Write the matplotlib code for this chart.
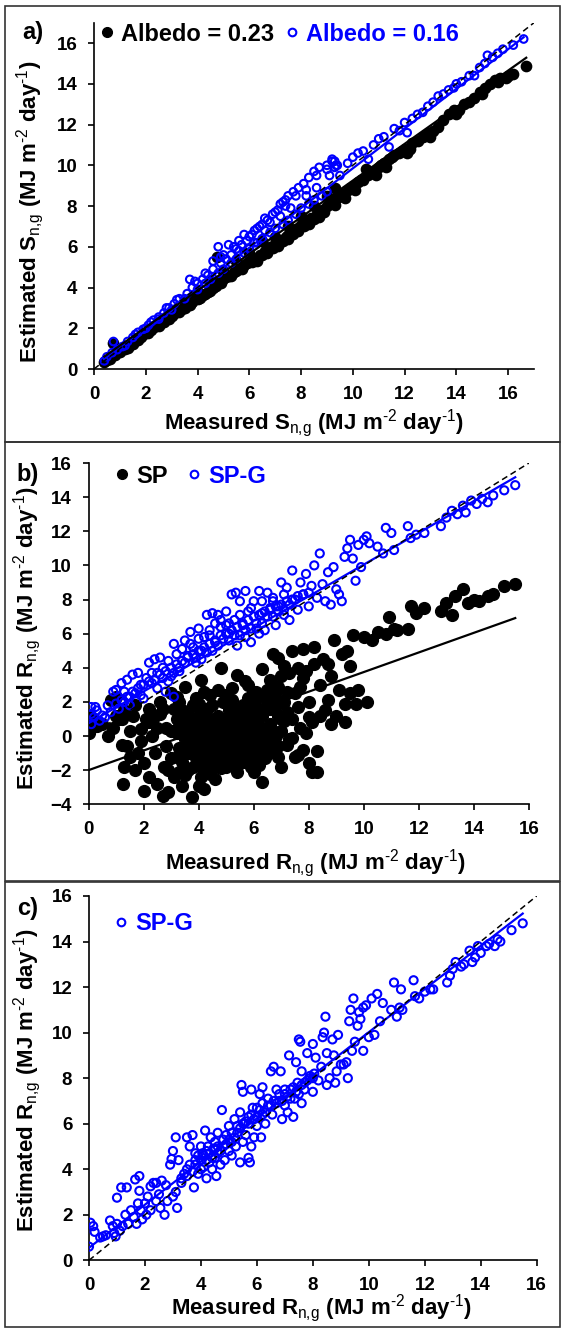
import numpy as np
import matplotlib
matplotlib.use('Agg')
import matplotlib.pyplot as plt
from matplotlib.lines import Line2D
from matplotlib.patches import Rectangle

plt.rcParams['font.family'] = ['Liberation Sans', 'DejaVu Sans']
plt.rcParams['mathtext.fontset'] = 'custom'
plt.rcParams['mathtext.rm'] = 'Liberation Sans'
plt.rcParams['mathtext.bf'] = 'Liberation Sans:bold'

# ---- panel a: estimated vs measured S_n,g (x, y)
a_alb023 = [(0.4,0.35),(0.5,0.45),(0.6,0.5),(0.75,1.3),(0.8,0.7),(1.0,0.85),(1.2,1.0),(1.4,1.2),(1.6,1.4),
            (1.8,1.55),(2.0,1.75),(2.2,1.9),(2.4,2.1),(2.6,2.25),(2.8,2.45),(3.0,2.6),(3.2,2.8),(3.4,2.95),
            (3.6,3.15),(3.8,3.3),(4.0,3.45),(4.2,3.65),(4.4,3.8),(4.6,4.0),(4.8,4.2),(4.75,5.5),(5.0,4.4),
            (5.2,4.55),(5.4,4.75),(5.6,4.9),(5.8,5.1),(6.0,5.25),(6.2,5.4),(6.4,5.6),(6.6,5.8),(6.8,6.0),
            (7.0,6.15),(7.2,6.35),(7.4,6.5),(7.6,6.7),(7.8,6.85),(8.0,7.05),(8.2,7.2),(8.4,7.4),(8.6,7.6),
            (8.8,7.8),(9.0,8.0),(9.2,8.2),(9.4,8.4),(9.6,8.6),(9.8,8.8),(10.0,9.0),(10.2,9.2),(10.4,9.3),
            (10.6,9.5),(10.8,9.7),(11.0,9.9),(11.2,10.1),(11.4,10.3),(11.6,10.5),(11.8,10.6),(12.0,10.8),
            (12.1,10.6),(12.3,11.1),(12.5,11.2),(12.7,11.4),(12.9,11.6),(13.1,11.7),(13.3,11.9),(13.5,12.2),
            (13.7,12.5),(13.9,12.7),(14.1,12.7),(14.3,13.0),(14.5,13.1),(14.7,13.3),(14.9,13.6),(15.1,13.8),
            (15.3,14.0),(15.5,14.2),(15.7,14.3),(15.9,14.3),(16.2,14.5),(16.7,14.85),
            (1.1,1.05),(1.5,1.25),(1.9,1.7),(2.3,2.05),(2.7,2.3),(3.1,2.75),(3.5,3.0),(3.9,3.45),(4.3,3.7),
            (4.7,4.05),(5.1,4.5),(5.5,4.8),(5.9,5.2),(6.3,5.45),(6.7,5.9),(7.1,6.2),(7.5,6.6),(7.9,6.9),
            (8.3,7.25),(8.7,7.7),(9.1,8.1),(9.5,8.55),(9.9,8.9),(10.3,9.3),(10.7,9.6),(11.1,10.0),(11.5,10.4),
            (11.9,10.7),(6.5,6.3),(7.0,6.5),(7.5,7.0),(8.0,7.5),(8.5,8.0),(9.0,8.5),(5.0,4.8),(5.5,5.3),
            (6.0,5.7),(4.5,4.3),(4.0,3.8),(3.5,3.3),(9.3,8.9),(10.5,9.8),
            (1.3,1.05),(1.7,1.4),(2.1,1.75),(2.5,2.1),(2.9,2.45),(3.3,2.8),(3.7,3.15),(4.1,3.5),(4.5,3.85),
            (4.9,4.2),(5.3,4.55),(5.7,4.9),(6.1,5.25),(6.5,5.6),(6.9,5.95),(7.3,6.3),(7.7,6.65),(8.1,7.0),
            (8.5,7.35),(8.9,7.7),(9.3,8.05),(7.9,6.75),(8.3,7.1),(8.7,7.45),(6.3,5.3),(6.7,5.7),(7.1,6.05),
            (7.5,6.4),(9.7,8.4),(10.1,8.8),(10.9,9.5),(11.3,9.9),(12.2,10.8),(13.0,11.4),(14.0,12.5),
            (15.0,13.5),(15.6,14.1),(16.0,14.4)]
a_alb016 = [(0.4,0.4),(0.5,0.6),(0.7,0.8),(0.75,1.35),(0.9,0.95),(1.1,1.1),(1.3,1.35),(1.5,1.55),(1.7,1.8),
            (1.9,1.95),(2.1,2.15),(2.3,2.4),(2.5,2.55),(2.7,2.75),(2.9,3.0),(3.1,3.2),(3.3,3.45),(3.6,3.7),
            (3.8,4.0),(3.7,4.4),(4.0,4.2),(4.2,4.4),(4.4,4.6),(4.6,4.9),(4.8,6.0),(4.9,5.2),(5.1,5.4),
            (5.3,5.6),(5.5,5.9),(5.2,6.1),(5.7,6.1),(5.9,6.3),(6.1,6.6),(6.3,6.9),(6.5,7.1),(6.7,7.3),
            (6.9,7.6),(7.1,7.8),(7.3,8.2),(7.5,8.5),(7.4,8.0),(7.7,8.7),(7.9,8.9),(8.1,9.1),(8.3,9.4),
            (8.5,9.7),(8.7,9.9),(9.0,10.0),(9.2,10.2),(9.4,10.0),(9.5,9.5),(9.8,10.1),(10.0,10.4),(10.2,10.6),
            (10.4,10.7),(10.6,10.3),(10.8,11.0),(11.0,11.3),(11.2,11.4),(11.4,10.9),(11.6,11.8),(11.8,11.7),
            (12.0,12.1),(12.1,11.6),(12.3,12.3),(12.5,12.5),(12.7,12.6),(12.9,12.9),(13.1,13.1),(13.3,13.4),
            (13.5,13.5),(13.7,13.7),(13.9,13.8),(14.0,14.0),(14.2,14.1),(14.5,14.4),(14.7,14.4),(14.9,14.8),
            (15.1,15.0),(15.2,15.4),(15.4,15.3),(15.6,15.5),(15.8,15.7),(16.2,15.9),(16.6,16.2),
            (1.2,1.15),(2.0,2.0),(3.0,2.9),(4.0,3.9),(4.5,4.4),(5.0,4.9),(5.5,5.4),(6.0,5.9),(6.5,6.4),
            (7.0,6.9),(7.5,7.3),(8.0,7.9),(8.5,8.3),(9.0,8.7),(2.5,2.45),(3.5,3.45),(4.3,4.2),(4.8,4.7),
            (5.3,5.2),(5.8,5.7),(6.3,6.2),(6.8,6.7),(7.3,7.1),(7.8,7.6),(8.3,8.1),(8.8,8.5),(5.6,5.8),
            (6.2,6.2),(6.6,6.8),(7.2,7.5),(7.6,7.9),(8.2,8.5),(8.6,8.9),(9.1,9.5),(9.3,9.9),(9.3,10.2),
            (4.6,5.3),(5.0,5.6),(5.4,6.0),(5.8,6.6),(6.2,6.8),(6.6,7.4),(7.0,7.7),(7.4,8.3),(7.8,8.5),
            (8.2,8.8),(8.6,9.5),(9.0,9.8),(9.2,10.3),(9.35,10.0),(6.8,7.2),(7.2,8.1),(3.9,4.3),(4.3,4.7),
            (4.9,5.5),(5.6,6.3),(6.0,6.5),(6.4,7.0),(2.8,3.0),(3.2,3.4),(1.6,1.7),(2.2,2.3)]

# ---- panel b: estimated vs measured R_n,g
b_sp = [(0.0,0.2),(0.05,1.2),(0.1,0.5),(0.2,0.8),(0.3,0.6),(0.5,0.7),(0.7,0.0),(0.8,2.1),(0.9,0.5),(1.0,2.3),
        (1.1,1.0),(1.2,-0.5),(1.25,-2.8),(1.3,-1.8),(1.4,-0.6),(1.5,-1.2),(1.6,1.2),(1.7,-2.0),(1.8,-1.0),
        (1.9,0.4),(2.0,-3.2),(2.0,-1.6),(2.1,1.0),(2.2,-2.4),(2.3,0.0),(2.4,-1.0),(2.5,-2.8),(2.6,1.3),
        (2.7,-3.5),(2.75,-1.8),(2.8,0.5),(2.9,-3.3),(3.0,-1.3),(3.0,2.5),(3.1,-2.4),(3.2,0.2),(3.3,-0.7),
        (3.4,1.5),(3.5,-2.3),(3.5,2.9),(3.6,-1.0),(3.7,0.5),(3.75,-3.6),(3.8,-1.8),(3.8,1.8),(3.9,-0.3),
        (4.0,-2.9),(4.0,0.9),(4.1,3.3),(4.1,-1.2),(4.2,-3.1),(4.2,0.2),(4.3,-0.7),(4.3,1.6),(4.4,-2.2),
        (4.4,2.4),(4.5,-1.5),(4.5,0.6),(4.6,-2.5),(4.6,-0.2),(4.7,1.2),(4.7,-1.0),(4.8,4.0),(4.8,-0.5),
        (4.9,0.3),(4.9,2.0),(5.0,-1.8),(5.0,1.0),(5.1,-0.8),(5.2,2.8),(5.2,-1.4),(5.3,0.5),(5.4,3.6),
        (5.4,-2.1),(5.5,1.5),(5.5,-0.3),(5.6,0.2),(5.7,3.2),(5.7,-1.0),(5.8,2.2),(5.9,-1.8),(5.9,0.8),
        (6.0,1.2),(6.0,-2.1),(6.1,2.6),(6.2,-0.6),(6.3,3.9),(6.3,-2.7),(6.4,0.4),(6.5,1.8),(6.6,-0.9),
        (6.7,4.8),(6.7,2.5),(6.8,0.0),(6.9,1.2),(7.0,3.5),(7.0,-1.8),(7.1,2.0),(7.2,-0.5),(7.3,3.7),
        (7.4,1.0),(7.4,5.0),(7.5,-1.2),(7.5,2.5),(7.6,4.0),(7.7,0.5),(7.8,-0.8),(7.8,5.1),(7.9,3.8),
        (8.0,2.0),(8.0,-1.6),(8.1,-2.1),(8.1,0.8),(8.2,4.2),(8.2,5.2),(8.3,-2.1),(8.3,-0.9),(8.4,1.2),
        (8.5,4.5),(8.6,1.5),(8.7,4.2),(8.8,0.7),(8.8,3.5),(8.9,5.6),(9.0,1.2),(9.1,2.7),(9.2,4.8),
        (9.3,1.9),(9.3,0.8),(9.4,5.0),(9.5,2.5),(9.5,4.1),(9.6,5.9),(9.7,1.9),(9.8,2.7),(10.0,5.8),
        (10.1,2.0),(10.3,5.6),(10.5,6.1),(10.8,6.0),(10.9,7.0),(11.1,6.3),(11.2,6.2),(11.6,6.3),(11.7,7.6),
        (11.9,7.2),(12.2,7.5),(12.8,7.3),(13.0,7.8),(13.2,7.1),(13.3,8.2),(13.6,8.6),(13.8,7.8),(14.0,8.0),
        (14.2,7.9),(14.5,8.2),(14.7,8.3),(15.1,8.8),(15.5,8.9),
        (3.6,0.2),(3.9,0.8),(4.0,-0.5),(4.1,1.4),(4.3,-1.6),(4.4,0.0),(4.5,1.8),(4.6,1.0),(4.8,-1.9),
        (4.9,-1.2),(5.0,0.2),(5.1,1.5),(5.3,-0.6),(5.4,0.9),(5.6,-1.5),(5.7,1.2),(5.8,-0.4),(6.0,0.4),
        (6.1,-1.2),(6.2,1.6),(6.4,-0.2),(6.5,2.7),(6.6,0.7),(6.8,1.7),(7.0,0.3),(7.2,1.4),(7.3,-0.2),
        (7.6,1.7),(3.4,-1.5),(3.2,1.0),(3.0,0.3),(2.8,-0.6),(2.5,0.5),(2.2,0.8),(1.9,-0.3),(4.2,2.6),
        (5.2,2.1),(5.8,3.0),(6.6,3.3),(6.9,2.9),(7.7,2.9),(8.4,3.0),(8.7,2.1),
        (3.3,0.6),(3.5,-0.2),(3.7,1.2),(3.8,-0.8),(3.9,0.0),(4.0,1.9),(4.1,-0.3),(4.2,0.9),(4.3,0.4),
        (4.4,-1.0),(4.5,-0.4),(4.6,0.4),(4.7,0.0),(4.8,0.8),(4.9,-0.7),(5.0,-0.3),(5.1,0.5),(5.2,0.0),
        (5.3,1.1),(5.4,-1.0),(5.5,0.5),(5.6,1.8),(5.7,0.0),(5.8,0.8),(5.9,-0.8),(6.0,-0.3),(6.1,0.6),
        (6.2,0.1),(6.3,1.2),(6.4,-1.3),(6.5,0.3),(6.6,1.6),(6.7,-0.3),(6.8,2.3),(6.9,-0.6),(7.1,0.9),
        (7.2,2.6),(7.4,-0.1),(3.1,1.6),(2.9,-2.0),(3.4,-2.9),(4.6,-1.8),(5.5,-1.6),(6.2,-1.7),(4.2,-2.0),
        (3.6,-2.0),(3.2,-1.2),(5.0,-1.2),(5.8,1.4),(6.4,2.2),(4.7,2.7),(3.9,2.2),(3.3,2.0),(2.7,1.6),
        (2.4,1.2),(1.5,0.3),(1.2,1.0),(7.9,0.2),(7.6,-1.1),(8.0,1.1),(7.8,3.4),(7.1,4.1),(6.9,4.6),
        (1.0,1.2),(1.3,1.5),(1.7,1.8),(2.2,1.6),(2.6,2.0),(3.2,2.3),(3.5,1.1),(3.7,-0.5),(3.9,-1.3),
        (4.0,0.3),(4.1,-2.4),(4.2,-0.9),(4.3,1.1),(4.4,-0.5),(4.5,0.2),(4.6,-1.2),(4.7,0.6),(4.8,-1.4),
        (4.9,1.0),(5.0,0.6),(5.1,-1.6),(5.2,-0.4),(5.3,0.2),(5.4,0.5),(5.5,-0.8),(5.6,-0.5),(5.7,0.5),
        (5.8,-1.2),(5.9,0.2),(6.0,-1.0),(6.1,0.0),(6.2,-1.1),(6.3,0.5),(6.5,-0.6),(6.7,0.3),(6.9,-1.2),
        (7.0,1.0),(3.5,0.4),(3.8,0.6),(4.4,0.7),(5.3,1.6),(6.0,2.0),(5.0,2.4),(4.1,-1.7),(3.3,-2.1)]
b_spg = [(0.1,0.7),(0.1,1.7),(0.25,1.7),(0.1,1.3),(0.2,1.1),(0.3,1.5),(0.5,1.2),(0.7,1.8),(0.8,1.4),(0.9,2.6),
         (1.0,2.7),(1.1,1.6),(1.2,3.1),(1.3,2.0),(1.4,3.3),(1.5,2.3),(1.6,3.6),(1.7,2.5),(1.8,3.7),(1.9,3.0),
         (2.0,2.2),(2.1,3.4),(2.2,4.3),(2.3,3.1),(2.4,4.5),(2.5,3.7),(2.6,4.6),(2.7,4.0),(2.8,2.6),(2.9,4.4),
         (3.0,3.5),(3.1,2.3),(3.1,5.4),(3.2,4.8),(3.3,4.0),(3.4,5.1),(3.5,5.6),(3.6,4.6),(3.7,6.1),(3.8,5.2),
         (3.9,4.3),(4.0,6.3),(4.1,5.0),(4.2,5.8),(4.3,7.1),(4.4,6.2),(4.5,7.2),(4.6,5.5),(4.7,7.1),(4.8,6.4),
         (4.9,5.7),(5.0,7.3),(5.1,6.0),(5.2,8.3),(5.3,6.8),(5.35,8.4),(5.4,5.3),(5.5,7.9),(5.6,6.6),(5.7,8.5),
         (5.8,7.3),(5.9,5.5),(6.0,7.9),(6.1,6.6),(6.2,8.5),(6.3,7.2),(6.4,6.2),(6.5,8.4),(6.6,7.5),(6.7,8.1),
         (6.8,6.5),(6.9,7.6),(7.0,9.0),(7.1,7.1),(7.2,8.7),(7.3,6.8),(7.4,9.7),(7.5,8.0),(7.6,7.4),(7.7,9.0),
         (7.8,8.3),(7.9,9.5),(8.0,7.6),(8.1,8.8),(8.2,10.0),(8.3,8.1),(8.4,10.7),(8.5,8.9),(8.6,7.9),(8.7,9.6),
         (8.8,7.7),(8.9,9.9),(9.0,8.6),(9.1,8.3),(9.2,7.9),(9.3,10.5),(9.4,11.0),(9.5,11.5),(9.6,10.4),
         (9.7,9.1),(9.8,11.2),(9.9,9.9),(10.0,11.5),(10.1,11.7),(10.2,11.3),(10.5,11.1),(10.7,10.7),
         (10.8,12.2),(11.0,11.9),(11.1,10.9),(11.6,12.3),(11.7,11.6),(11.9,11.8),(12.2,11.9),(12.8,12.3),
         (13.0,12.8),(13.2,13.2),(13.4,13.0),(13.6,13.5),(13.7,13.1),(13.9,13.8),(14.1,13.6),(14.3,13.9),
         (14.5,13.7),(14.7,14.1),(15.1,14.4),(15.5,14.7),
         (1.0,1.9),(1.2,2.1),(1.4,2.3),(1.6,2.6),(1.8,2.8),(2.0,3.0),(2.2,3.2),(2.4,3.3),(2.6,3.6),(2.8,3.8),
         (3.0,4.0),(3.2,4.2),(3.4,4.4),(3.6,4.7),(3.8,4.8),(4.0,5.0),(4.2,5.2),(4.4,5.4),(4.6,5.6),(4.8,5.9),
         (5.0,6.0),(5.2,6.2),(5.4,6.4),(5.6,6.5),(5.8,6.8),(6.0,7.0),(6.2,7.1),(6.4,7.3),(6.6,7.4),(6.8,7.6),
         (7.0,7.7),(7.2,7.9),(7.4,8.0),(7.6,8.2),(7.8,8.3),(8.0,8.4),(3.3,3.8),(3.9,4.6),(4.3,4.9),(4.7,5.3),
         (5.1,5.6),(5.5,5.9),(5.9,6.3),(6.3,6.6),(6.7,7.0),(7.1,7.4),(2.5,2.8),(2.9,3.2),(1.5,1.8),(0.6,1.1),
         (0.4,0.9),(3.5,4.3),(4.1,4.5),(4.5,5.0),(5.3,5.9),(5.7,6.2),(6.1,6.3),(6.5,7.0),(6.9,7.3),(7.3,7.7),
         (3.7,5.4),(4.0,5.7),(4.4,5.9),(4.8,6.8),(5.1,6.6),(5.5,7.1),(5.9,7.5),(6.3,7.9),(6.7,7.9),(7.1,8.3),
         (4.6,6.6),(5.0,6.5),(5.7,5.8),(6.2,6.0),(2.3,3.7),(2.7,3.4),(3.1,3.7),(1.9,2.4),(1.3,2.6)]

# ---- panel c: SP-G only
c_spg = [(0.0,0.6),(0.05,1.65),(0.15,1.5),(0.2,1.25),(0.4,1.0),(0.5,1.05),(0.6,1.1),(0.75,1.75),(0.85,1.5),
         (0.9,1.2),(0.95,1.05),(1.0,1.6),(1.0,2.75),(1.1,1.3),(1.15,3.2),(1.2,1.5),(1.3,2.0),(1.35,3.2),
         (1.4,1.6),(1.5,2.2),(1.6,1.9),(1.65,3.55),(1.7,1.6),(1.75,2.5),(1.8,3.7),(1.8,3.05),(1.85,2.2),
         (1.9,1.8),(2.0,2.5),(2.05,2.0),(2.1,2.8),(2.2,3.25),(2.2,2.2),(2.3,3.4),(2.4,3.4),(2.4,2.6),
         (2.5,2.9),(2.55,2.3),(2.6,3.5),(2.7,2.0),(2.75,3.3),(2.8,2.6),(2.9,4.2),(2.95,4.45),(3.0,2.8),
         (3.0,4.8),(3.1,3.0),(3.1,5.4),(3.15,2.3),(3.2,4.4),(3.3,3.4),(3.4,3.8),(3.5,4.0),(3.5,5.4),(3.6,5.0),
         (3.7,5.5),(3.75,3.2),(3.8,4.2),(3.8,4.7),(3.9,3.8),(4.0,4.4),(4.0,5.0),(4.1,4.1),(4.1,4.6),(4.15,5.7),
         (4.2,3.6),(4.2,4.8),(4.3,4.3),(4.35,5.4),(4.4,4.0),(4.45,4.9),(4.5,4.5),(4.5,5.2),(4.55,3.7),
         (4.6,5.6),(4.6,4.7),(4.7,4.2),(4.75,6.6),(4.8,5.0),(4.85,4.4),(4.9,5.5),(5.0,4.8),(5.0,5.9),(5.1,5.2),
         (5.1,4.6),(5.2,6.2),(5.25,5.0),(5.3,5.6),(5.4,4.3),(5.4,6.5),(5.45,7.7),(5.5,5.2),(5.5,7.4),
         (5.55,6.0),(5.6,5.5),(5.7,4.5),(5.7,6.3),(5.75,4.3),(5.8,7.5),(5.8,5.0),(5.85,6.7),(5.9,5.4),
         (6.0,5.9),(6.0,6.7),(6.1,7.3),(6.15,5.4),(6.2,6.4),(6.2,7.6),(6.3,6.0),(6.4,6.8),(6.5,8.3),(6.55,6.4),
         (6.6,8.5),(6.7,7.5),(6.8,7.0),(6.85,8.3),(6.9,6.2),(7.0,6.8),(7.0,7.3),(7.1,6.5),(7.15,9.0),(7.2,7.5),
         (7.3,6.3),(7.35,7.1),(7.4,8.7),(7.45,7.8),(7.5,9.7),(7.55,9.6),(7.6,6.9),(7.6,8.3),(7.7,7.5),
         (7.8,9.1),(7.9,8.0),(8.0,9.5),(8.0,7.4),(8.05,8.2),(8.1,8.9),(8.2,7.9),(8.3,8.5),(8.35,9.8),(8.4,10.0),
         (8.45,10.7),(8.5,9.1),(8.5,7.7),(8.6,8.0),(8.7,9.7),(8.75,9.0),(8.8,7.8),(8.85,8.3),(8.9,9.9),
         (9.0,8.6),(9.1,8.6),(9.2,8.7),(9.25,8.0),(9.3,10.5),(9.35,11.0),(9.4,9.2),(9.45,11.5),(9.5,9.6),
         (9.6,10.3),(9.65,10.9),(9.7,10.6),(9.8,9.2),(9.8,11.1),(9.9,11.2),(10.0,9.8),(10.1,11.5),(10.2,9.9),
         (10.3,11.7),(10.4,10.5),(10.5,11.3),(10.8,11.0),(10.9,12.2),(11.0,10.7),(11.1,11.1),(11.15,11.9),
         (11.2,11.0),(11.6,12.3),(11.65,11.6),(11.8,11.5),(12.0,11.8),(12.2,11.9),(12.3,11.9),(12.8,12.2),
         (12.9,12.5),(13.0,12.8),(13.1,13.1),(13.3,12.9),(13.4,13.0),(13.6,13.6),(13.7,13.1),(13.8,13.3),
         (13.9,13.8),(14.0,13.5),(14.2,13.8),(14.3,13.9),(14.5,13.8),(14.6,14.1),(14.7,14.0),(15.1,14.5),
         (15.5,14.8),
         (3.3,3.6),(3.5,3.7),(3.6,4.2),(3.7,3.9),(3.8,4.4),(3.9,4.6),(4.0,4.0),(4.05,4.7),(4.2,4.4),(4.25,5.0),
         (4.3,4.7),(4.4,4.5),(4.5,4.9),(4.6,5.0),(4.7,4.8),(4.8,5.3),(4.9,5.1),(5.0,5.3),(5.1,5.6),(5.2,5.4),
         (5.3,5.9),(5.4,5.8),(5.5,6.0),(5.6,6.1),(5.7,6.0),(5.8,6.4),(5.9,6.2),(6.0,6.3),(6.1,6.6),(6.2,6.9),
         (6.3,6.5),(6.4,7.1),(6.5,6.8),(6.6,7.0),(6.7,6.9),(6.8,7.3),(6.9,7.0),(7.0,7.5),(7.1,7.2),(7.2,7.1),
         (7.3,7.6),(7.4,7.4),(7.5,7.3),(7.6,7.7),(7.7,7.8),(7.8,7.9),(7.9,8.1),(8.0,8.0)]

# regression lines (slope, intercept, x range)
a_fit023 = (0.90, 0.25, 0.4, 16.7)
a_fit016 = (0.975, 0.10, 0.4, 16.6)
b_fit_sp = (0.575, -2.0, 0.0, 15.5)
b_fit_spg = (0.93, 0.75, 0.0, 15.5)
c_fit_spg = (0.947, 0.55, 0.0, 15.5)

BLUE = '#0000ff'
W, H = 564, 1328


def xy(pts):
    arr = np.array(pts)
    return arr[:, 0], arr[:, 1]


def fitline(ax, fit, color):
    m, c, x0, x1 = fit
    xs = np.array([x0, x1])
    ax.plot(xs, m * xs + c, color=color, lw=1.6, zorder=4)


def style(ax, xlim, ylim, yticks):
    ax.set_xlim(*xlim)
    ax.set_ylim(*ylim)
    ax.set_xticks(np.arange(0, 17, 2))
    ax.set_yticks(yticks)
    for s in ['top', 'right']:
        ax.spines[s].set_visible(False)
    for s in ['left', 'bottom']:
        ax.spines[s].set_linewidth(1.2)
    ax.tick_params(direction='out', length=4, width=1.2, labelsize=13.5, pad=8)
    for lab in ax.get_xticklabels() + ax.get_yticklabels():
        lab.set_fontweight('bold')


def px_axes(l, r, t, b):
    return fig.add_axes([l / W, 1 - b / H, (r - l) / W, (b - t) / H])


fig = plt.figure(figsize=(W / 100, H / 100), dpi=100)

# panel frames
for top, bot in [(6, 442), (442, 881), (882, 1327)]:
    fig.add_artist(Rectangle((5 / W, 1 - bot / H), 555 / W, (bot - top) / H, transform=fig.transFigure,
                             fill=False, edgecolor='#333333', lw=1.2))

HY = '\u2010'
lab_kw = dict(fontsize=16, fontweight='bold')
units = r' (MJ m$^{\mathrm{%s2}}$ day$^{\mathrm{%s1}}$)' % (HY, HY)
xl_S = r'Measured S$_{\mathrm{n{,}g}}$' + units
yl_S = r'Estimated S$_{\mathrm{n{,}g}}$' + units
xl_R = r'Measured R$_{\mathrm{n{,}g}}$' + units
yl_R = r'Estimated R$_{\mathrm{n{,}g}}$' + units
dash = (0, (4, 2.5))

# ---------------- a)
ax = px_axes(94, 534, 22.7, 369)
x, y = xy(a_alb023)
ax.scatter(x, y, s=55, color='black', zorder=2)
x, y = xy(a_alb016)
ax.scatter(x, y, s=30, facecolors='none', edgecolors=BLUE, linewidths=1.5, zorder=3)
fitline(ax, a_fit016, BLUE)
fitline(ax, a_fit023, 'black')
ax.plot([0, 17], [0, 17], color='black', ls=dash, lw=1.1, zorder=5)
style(ax, (0, 17), (0, 17), np.arange(0, 17, 2))
h = [Line2D([], [], ls='none', marker='o', ms=7, color='black'),
     Line2D([], [], ls='none', marker='o', ms=5.5, mfc='none', mec=BLUE, mew=1.5)]
leg = ax.legend(h, ['Albedo = 0.23', 'Albedo = 0.16'], ncol=2, loc='upper left', bbox_to_anchor=(0.013, 1.0),
                frameon=False, borderpad=0, borderaxespad=0, handlelength=0.6, handletextpad=0.3,
                columnspacing=0.45, prop=dict(weight='bold', size=17))
leg.get_texts()[1].set_color(BLUE)
fig.text(314 / W, 1 - 423 / H, xl_S, ha='center', va='center', **lab_kw)
fig.text(30 / W, 1 - 212 / H, yl_S, ha='center', va='center', rotation=90, **lab_kw)
fig.text(33 / W, 1 - 33 / H, 'a)', ha='center', va='center', fontsize=17, fontweight='bold')

# ---------------- b)
ax = px_axes(88.5, 529, 463, 804.3)
x, y = xy(b_sp)
ax.scatter(x, y, s=72, color='black', zorder=2)
x, y = xy(b_spg)
ax.scatter(x, y, s=34, facecolors='none', edgecolors=BLUE, linewidths=1.5, zorder=3)
fitline(ax, b_fit_sp, 'black')
fitline(ax, b_fit_spg, BLUE)
ax.plot([0, 16], [0, 16], color='black', ls=dash, lw=1.1, zorder=5)
style(ax, (0, 16), (-4, 16), np.arange(-4, 17, 2))
h = [Line2D([], [], ls='none', marker='o', ms=7, color='black'),
     Line2D([], [], ls='none', marker='o', ms=5.5, mfc='none', mec=BLUE, mew=1.5)]
leg = ax.legend(h, ['SP', 'SP-G'], ncol=2, loc='upper left', bbox_to_anchor=(0.06, 0.995),
                frameon=False, borderpad=0, borderaxespad=0, handlelength=0.6, handletextpad=0.3,
                columnspacing=0.8, prop=dict(weight='bold', size=17))
leg.get_texts()[1].set_color(BLUE)
fig.text(316 / W, 1 - 863 / H, xl_R, ha='center', va='center', **lab_kw)
fig.text(27 / W, 1 - 638 / H, yl_R, ha='center', va='center', rotation=90, **lab_kw)
fig.text(28 / W, 1 - 475 / H, 'b)', ha='center', va='center', fontsize=17, fontweight='bold')

# ---------------- c)
ax = px_axes(89, 536.7, 896, 1260.3)
x, y = xy(c_spg)
ax.scatter(x, y, s=34, facecolors='none', edgecolors=BLUE, linewidths=1.5, zorder=3)
fitline(ax, c_fit_spg, BLUE)
ax.plot([0, 16], [0, 16], color='black', ls=dash, lw=1.1, zorder=5)
style(ax, (0, 16), (0, 16), np.arange(0, 17, 2))
h = [Line2D([], [], ls='none', marker='o', ms=5.5, mfc='none', mec=BLUE, mew=1.5)]
leg = ax.legend(h, ['SP-G'], loc='upper left', bbox_to_anchor=(0.055, 0.955),
                frameon=False, borderpad=0, borderaxespad=0, handlelength=0.6, handletextpad=0.3,
                prop=dict(weight='bold', size=17))
leg.get_texts()[0].set_color(BLUE)
fig.text(322 / W, 1 - 1308 / H, xl_R, ha='center', va='center', **lab_kw)
fig.text(27 / W, 1 - 1080 / H, yl_R, ha='center', va='center', rotation=90, **lab_kw)
fig.text(28 / W, 1 - 908 / H, 'c)', ha='center', va='center', fontsize=17, fontweight='bold')

fig.savefig('out.png', dpi=100)
